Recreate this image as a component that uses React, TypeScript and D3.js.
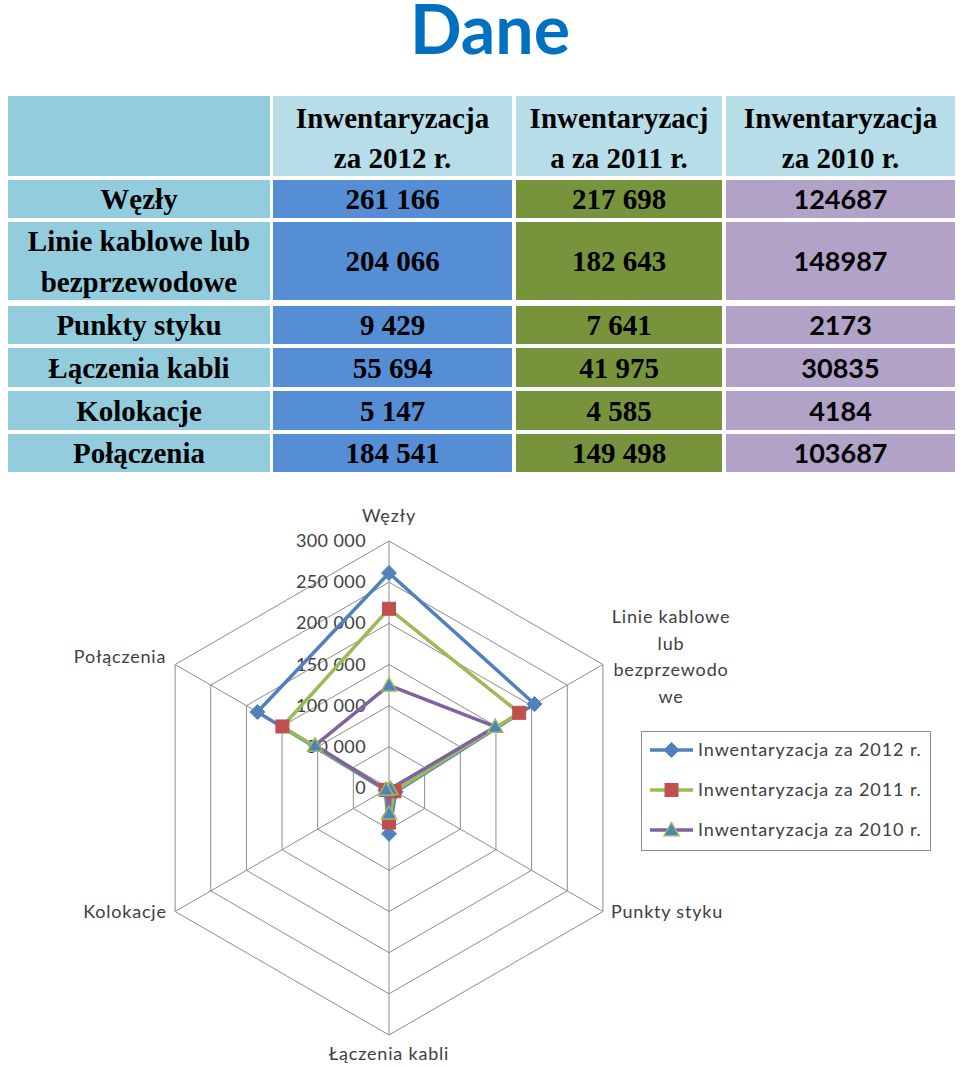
import React from "react";
import * as d3 from "d3";

const title = "Dane";
const seriesNames = ["Inwentaryzacja za 2012 r.", "Inwentaryzacja za 2011 r.", "Inwentaryzacja za 2010 r."];
const headerLines = [
  ["Inwentaryzacja", "za 2012 r."],
  ["Inwentaryzacj", "a za 2011 r."],
  ["Inwentaryzacja", "za 2010 r."],
];
const rowLabels = [["Węzły"], ["Linie kablowe lub", "bezprzewodowe"], ["Punkty styku"], ["Łączenia kabli"], ["Kolokacje"], ["Połączenia"]];
const tableCol2012 = ["261 166", "204 066", "9 429", "55 694", "5 147", "184 541"];
const tableCol2011 = ["217 698", "182 643", "7 641", "41 975", "4 585", "149 498"];
const tableCol2010 = ["124687", "148987", "2173", "30835", "4184", "103687"];

const categories = ["Węzły", "Linie kablowe lub bezprzewodowe", "Punkty styku", "Łączenia kabli", "Kolokacje", "Połączenia"];
const categoryLabelLines = [["Węzły"], ["Linie kablowe", "lub", "bezprzewodo", "we"], ["Punkty styku"], ["Łączenia kabli"], ["Kolokacje"], ["Połączenia"]];
const values2012 = [261166, 204066, 9429, 55694, 5147, 184541];
const values2011 = [217698, 182643, 7641, 41975, 4585, 149498];
const values2010 = [124687, 148987, 2173, 30835, 4184, 103687];
const radialTicks = [0, 50000, 100000, 150000, 200000, 250000, 300000];
const tickLabels = ["0", "50 000", "100 000", "150 000", "200 000", "250 000", "300 000"];

const lineColors = ["#4F81BD", "#9BBB59", "#7F63A1"];

export default function App() {
  const W = 960, H = 1068;
  // table layout
  const colX = [8, 273, 516, 726];
  const colW = [262, 239, 206, 229];
  const rowY = [180, 222, 306, 348, 391, 434];
  const rowH = [38, 78, 38, 39, 39, 38];
  const headY = 96, headH = 80;
  const valueCols = [tableCol2012, tableCol2011, tableCol2010];
  const valueFills = ["#558ED5", "#77933C", "#B3A2C7"];
  const serif = "'Liberation Serif', 'Times New Roman', serif";
  const sans = "Lato, 'Noto Sans', sans-serif";

  // radar layout
  const cx = 389, cy = 788, R = 247;
  const r = d3.scaleLinear().domain([0, 300000]).range([0, R]);
  const ang = d3.scaleLinear().domain([0, categories.length]).range([0, 2 * Math.PI]);
  const pt = (i: number, v: number): [number, number] => {
    const a = ang(i);
    return [cx + r(v) * Math.sin(a), cy - r(v) * Math.cos(a)];
  };
  const closed = d3.line().curve(d3.curveLinearClosed);
  const series = [values2012, values2011, values2010];

  const marker = (k: number, x: number, y: number, key: string) => {
    if (k === 0) {
      const s = 7.5;
      return <path key={key} d={`M${x},${y - s}L${x + s},${y}L${x},${y + s}L${x - s},${y}Z`} fill="#4F81BD" stroke="#4F81BD" strokeWidth={1} />;
    }
    if (k === 1) {
      const s = 6.5;
      return <rect key={key} x={x - s} y={y - s} width={2 * s} height={2 * s} fill="#C0504D" stroke="#C0504D" strokeWidth={1} />;
    }
    const s = 7.5;
    return <path key={key} d={`M${x},${y - s}L${x + s},${y + s * 0.75}L${x - s},${y + s * 0.75}Z`} fill="#4F81BD" stroke="#9BBB59" strokeWidth={1.5} />;
  };

  const labelPos: { x: number; y: number }[] = [
    { x: 389, y: 516 },
    { x: 671, y: 617 },
    { x: 667, y: 912 },
    { x: 389, y: 1054 },
    { x: 125, y: 912 },
    { x: 120, y: 657 },
  ];

  return (
    <svg width={W} height={H} style={{ position: "absolute", left: 0, top: 0, background: "#fff" }}>
      <text x={490} y={54} textAnchor="middle" fontFamily={sans} fontWeight={700} fontSize={68} fill="#0070C0">{title}</text>

      {/* table header */}
      <rect x={colX[0]} y={headY} width={colW[0]} height={headH} fill="#93CDDD" />
      {headerLines.map((lines, j) => (
        <g key={"h" + j}>
          <rect x={colX[j + 1]} y={headY} width={colW[j + 1]} height={headH} fill="#B7DEE8" />
          {lines.map((t, li) => (
            <text key={li} x={colX[j + 1] + colW[j + 1] / 2} y={headY + 32 + li * 40} textAnchor="middle" fontFamily={serif} fontWeight={700} fontSize={29} fill="#000">{t}</text>
          ))}
        </g>
      ))}
      {rowLabels.map((lines, i) => (
        <g key={"r" + i}>
          <rect x={colX[0]} y={rowY[i]} width={colW[0]} height={rowH[i]} fill="#93CDDD" />
          {lines.map((t, li) => (
            <text key={li} x={colX[0] + colW[0] / 2} y={rowY[i] + rowH[i] / 2 + 10 + (li - (lines.length - 1) / 2) * 41} textAnchor="middle" fontFamily={serif} fontWeight={700} fontSize={29} fill="#000">{t}</text>
          ))}
          {valueCols.map((col, j) => (
            <g key={j}>
              <rect x={colX[j + 1]} y={rowY[i]} width={colW[j + 1]} height={rowH[i]} fill={valueFills[j]} />
              <text x={colX[j + 1] + colW[j + 1] / 2} y={rowY[i] + rowH[i] / 2 + 10} textAnchor="middle" fontFamily={j === 2 ? sans : serif} fontWeight={700} fontSize={j === 2 ? 27 : 29} fill="#000">{col[i]}</text>
            </g>
          ))}
        </g>
      ))}

      {/* radar grid */}
      <g stroke="#8C8C8C" strokeWidth={1} fill="none">
        {radialTicks.slice(1).map((t) => (
          <path key={t} d={closed(categories.map((_, i) => pt(i, t))) || ""} />
        ))}
        {categories.map((_, i) => {
          const [x, y] = pt(i, 300000);
          return <line key={i} x1={cx} y1={cy} x2={x} y2={y} />;
        })}
      </g>
      {radialTicks.map((t, k) => (
        <text key={t} x={366} y={cy - r(t) + 6} textAnchor="end" fontFamily={sans} fontSize={18} letterSpacing={0.4} fill="#404040">{tickLabels[k]}</text>
      ))}
      {categoryLabelLines.map((lines, i) => (
        <g key={"c" + i}>
          {lines.map((t, li) => (
            <text key={li} x={labelPos[i].x} y={labelPos[i].y + 6 + li * 26.7} textAnchor="middle" fontFamily={sans} fontSize={18} letterSpacing={0.8} fill="#404040">{t}</text>
          ))}
        </g>
      ))}

      {/* series */}
      {series.map((vals, k) => (
        <path key={"s" + k} d={closed(vals.map((v, i) => pt(i, v))) || ""} fill="none" stroke={lineColors[k]} strokeWidth={3.5} strokeLinejoin="round" />
      ))}
      {series.map((vals, k) => (
        <g key={"m" + k}>{vals.map((v, i) => { const [x, y] = pt(i, v); return marker(k, x, y, k + "-" + i); })}</g>
      ))}

      {/* legend */}
      <rect x={641.5} y={731.5} width={289} height={119} fill="#fff" stroke="#8C8C8C" />
      {seriesNames.map((n, k) => {
        const y = 750 + k * 40;
        return (
          <g key={"l" + k}>
            <line x1={650} x2={693} y1={y} y2={y} stroke={lineColors[k]} strokeWidth={3.5} />
            {marker(k, 671.5, y, "lm" + k)}
            <text x={698} y={y + 6} fontFamily={sans} fontSize={18} letterSpacing={0.9} fill="#404040">{n}</text>
          </g>
        );
      })}
    </svg>
  );
}
